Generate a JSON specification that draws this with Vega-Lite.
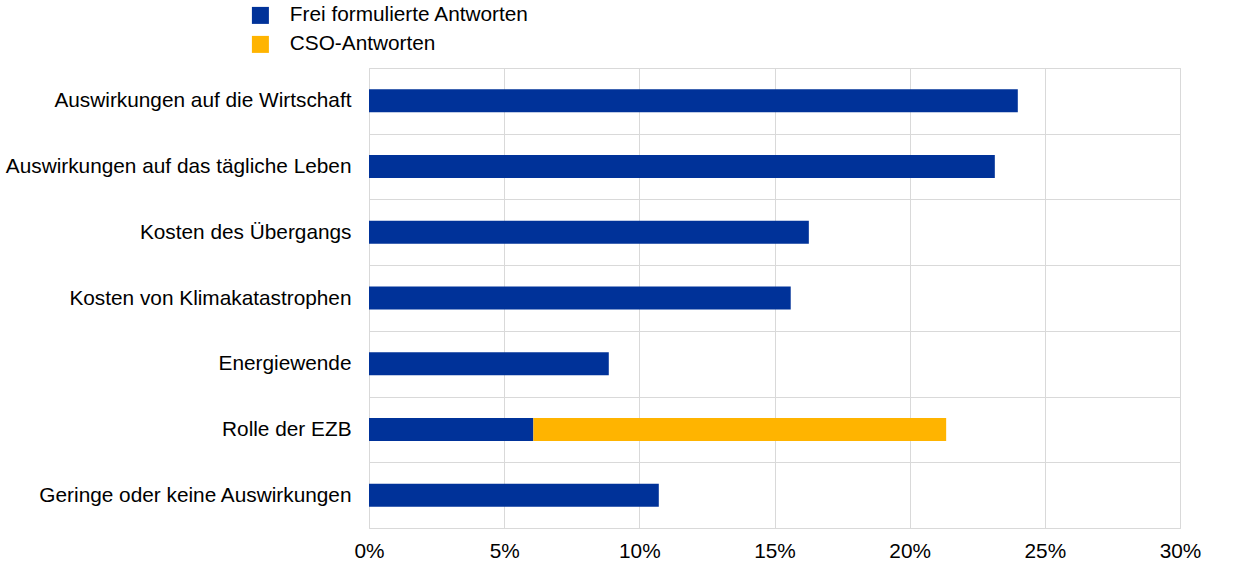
{
  "$schema": "https://vega.github.io/schema/vega-lite/v6.json",
  "autosize": {"type": "none"},
  "width": 811,
  "height": 460,
  "padding": {"left": 369, "top": 68, "right": 60, "bottom": 46},
  "config": {
    "font": "Liberation Sans",
    "view": {"stroke": "#d9d9d9", "strokeWidth": 1},
    "axis": {"labelFont": "Liberation Sans", "labelFontSize": 20.8, "labelColor": "#000000", "gridColor": "#d9d9d9", "gridWidth": 1}
  },
  "data": {
    "values": [
      {"kategorie": "Auswirkungen auf die Wirtschaft", "serie": "Frei formulierte Antworten", "wert": 24.0},
      {"kategorie": "Auswirkungen auf das tägliche Leben", "serie": "Frei formulierte Antworten", "wert": 23.15},
      {"kategorie": "Kosten des Übergangs", "serie": "Frei formulierte Antworten", "wert": 16.27},
      {"kategorie": "Kosten von Klimakatastrophen", "serie": "Frei formulierte Antworten", "wert": 15.6},
      {"kategorie": "Energiewende", "serie": "Frei formulierte Antworten", "wert": 8.87},
      {"kategorie": "Rolle der EZB", "serie": "Frei formulierte Antworten", "wert": 6.08},
      {"kategorie": "Rolle der EZB", "serie": "CSO-Antworten", "wert": 15.27},
      {"kategorie": "Geringe oder keine Auswirkungen", "serie": "Frei formulierte Antworten", "wert": 10.72}
    ]
  },
  "mark": {"type": "bar", "height": {"band": 0.35}},
  "encoding": {
    "y": {
      "field": "kategorie",
      "type": "nominal",
      "sort": null,
      "title": null,
      "scale": {"paddingInner": 0, "paddingOuter": 0},
      "axis": {"domain": false, "ticks": false, "grid": true, "tickBand": "extent", "labelPadding": 18, "labelLimit": 500}
    },
    "x": {
      "field": "wert",
      "type": "quantitative",
      "stack": "zero",
      "title": null,
      "scale": {"domain": [0, 30], "nice": false},
      "axis": {"values": [0, 5, 10, 15, 20, 25, 30], "labelExpr": "datum.value + '%'", "labelFlush": false, "domain": false, "ticks": false, "grid": true, "labelPadding": 13}
    },
    "color": {
      "field": "serie",
      "type": "nominal",
      "scale": {"domain": ["Frei formulierte Antworten", "CSO-Antworten"], "range": ["#003299", "#ffb400"]},
      "legend": {
        "title": null,
        "orient": "none",
        "legendX": -119,
        "legendY": -63,
        "symbolType": "square",
        "symbolSize": 289,
        "symbolStrokeWidth": 0,
        "labelFontSize": 20.8,
        "labelFont": "Liberation Sans",
        "labelColor": "#000000",
        "labelOffset": 19,
        "labelLimit": 500,
        "rowPadding": 7
      }
    },
    "order": {"field": "serie", "sort": "descending"}
  }
}
